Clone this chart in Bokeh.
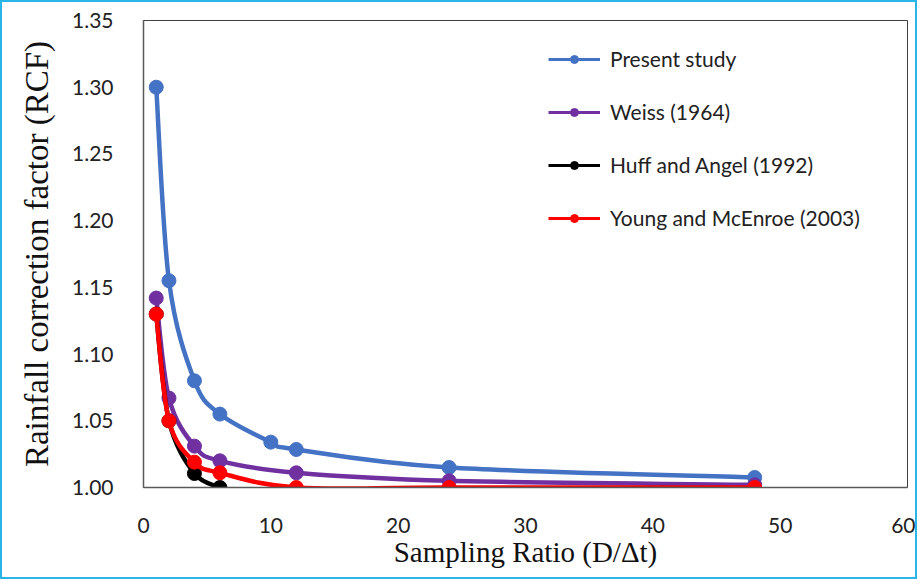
from bokeh.plotting import figure
from bokeh.models import Legend, LegendItem, FixedTicker, Range1d, NumeralTickFormatter
from bokeh.embed import file_html
from bokeh.resources import INLINE

# ---- data ----
present_x = [1, 2, 4, 6, 10, 12, 24, 48]
present_y = [1.300, 1.155, 1.080, 1.055, 1.034, 1.0285, 1.015, 1.0075]

weiss_x = [1, 2, 4, 6, 12, 24, 48]
weiss_y = [1.142, 1.067, 1.031, 1.020, 1.011, 1.005, 1.002]

huff_x = [1, 2, 4, 6]
huff_y = [1.130, 1.050, 1.0105, 1.000]

young_x = [1, 2, 4, 6, 12, 24, 48]
young_y = [1.130, 1.050, 1.019, 1.011, 1.000, 1.000, 1.000]

series_names = ["Present study", "Weiss (1964)", "Huff and Angel (1992)", "Young and McEnroe (2003)"]
series_colors = ["#4472C4", "#7030A0", "#000000", "#FF0000"]

x_ticks = [0, 10, 20, 30, 40, 50, 60]
y_ticks = [1.00, 1.05, 1.10, 1.15, 1.20, 1.25, 1.30, 1.35]


def smooth_segments(xs, ys):
    """Bezier control points (Catmull-Rom style, like a spreadsheet's smoothed line)."""
    n = len(xs)
    x0s, y0s, x1s, y1s, cx0, cy0, cx1, cy1 = [], [], [], [], [], [], [], []
    for i in range(n - 1):
        p0 = (xs[max(i - 1, 0)], ys[max(i - 1, 0)])
        p1 = (xs[i], ys[i])
        p2 = (xs[i + 1], ys[i + 1])
        p3 = (xs[min(i + 2, n - 1)], ys[min(i + 2, n - 1)])
        x0s.append(p1[0]); y0s.append(p1[1])
        x1s.append(p2[0]); y1s.append(p2[1])
        cx0.append(p1[0] + (p2[0] - p0[0]) / 6.0)
        cy0.append(p1[1] + (p2[1] - p0[1]) / 6.0)
        cx1.append(p2[0] - (p3[0] - p1[0]) / 6.0)
        cy1.append(p2[1] - (p3[1] - p1[1]) / 6.0)
    return dict(x0=x0s, y0=y0s, x1=x1s, y1=y1s, cx0=cx0, cy0=cy0, cx1=cx1, cy1=cy1)


p = figure(width=917, height=579, output_backend="svg", toolbar_location=None,
           x_range=Range1d(0, 60), y_range=Range1d(1.0, 1.35),
           min_border_left=141, min_border_right=12, min_border_top=18, min_border_bottom=94)
p.styles = {"border": "2px solid #29B5E8", "box-sizing": "border-box"}

p.grid.visible = False
p.outline_line_color = "#404040"
p.outline_line_width = 1
p.background_fill_color = "white"
p.border_fill_color = "white"

p.xaxis.ticker = FixedTicker(ticks=x_ticks)
p.yaxis.ticker = FixedTicker(ticks=y_ticks)
p.yaxis.formatter = NumeralTickFormatter(format="0.00")
for ax in (p.xaxis[0], p.yaxis[0]):
    ax.major_tick_line_color = None
    ax.minor_tick_line_color = None
    ax.axis_line_color = "#595959"
    ax.axis_line_width = 1.5
    ax.major_label_text_font = "Lato"
    ax.major_label_text_font_size = "21px"
    ax.major_label_text_color = "#222222"
    ax.axis_label_text_font = "Liberation Serif"
    ax.axis_label_text_font_style = "normal"
    ax.axis_label_text_color = "#111111"

p.xaxis.axis_label = "Sampling Ratio (D/Δt)"
p.yaxis.axis_label = "Rainfall correction factor (RCF)"
p.xaxis.axis_label_text_font_size = "29px"
p.yaxis.axis_label_text_font_size = "33px"
p.xaxis.major_label_standoff = 24
p.yaxis.major_label_standoff = 24
p.xaxis.axis_label_standoff = 0
p.yaxis.axis_label_standoff = 14

data = [(present_x, present_y), (weiss_x, weiss_y), (huff_x, huff_y), (young_x, young_y)]
items = []
for (xs, ys), name, col in zip(data, series_names, series_colors):
    seg = smooth_segments(xs, ys)
    p.bezier(x0="x0", y0="y0", x1="x1", y1="y1", cx0="cx0", cy0="cy0", cx1="cx1", cy1="cy1",
             source=seg, line_color=col, line_width=4.5)
    cr = p.scatter(xs, ys, size=14, fill_color=col, line_color=col)
    leg_line = p.line([None], [None], line_color=col, line_width=3)
    leg_dot = p.scatter([None], [None], size=12, fill_color=col, line_color=col)
    items.append(LegendItem(label=name, renderers=[leg_line, leg_dot]))

legend = Legend(items=items, location=(405, 257), orientation="vertical",
                label_text_font="Lato", label_text_font_size="21px", label_text_color="#222222",
                glyph_width=52, glyph_height=20, spacing=28, label_standoff=10,
                border_line_color=None, background_fill_alpha=0, padding=0, margin=0)
p.add_layout(legend, "center")

open("out.html", "w").write(file_html(p, INLINE))
